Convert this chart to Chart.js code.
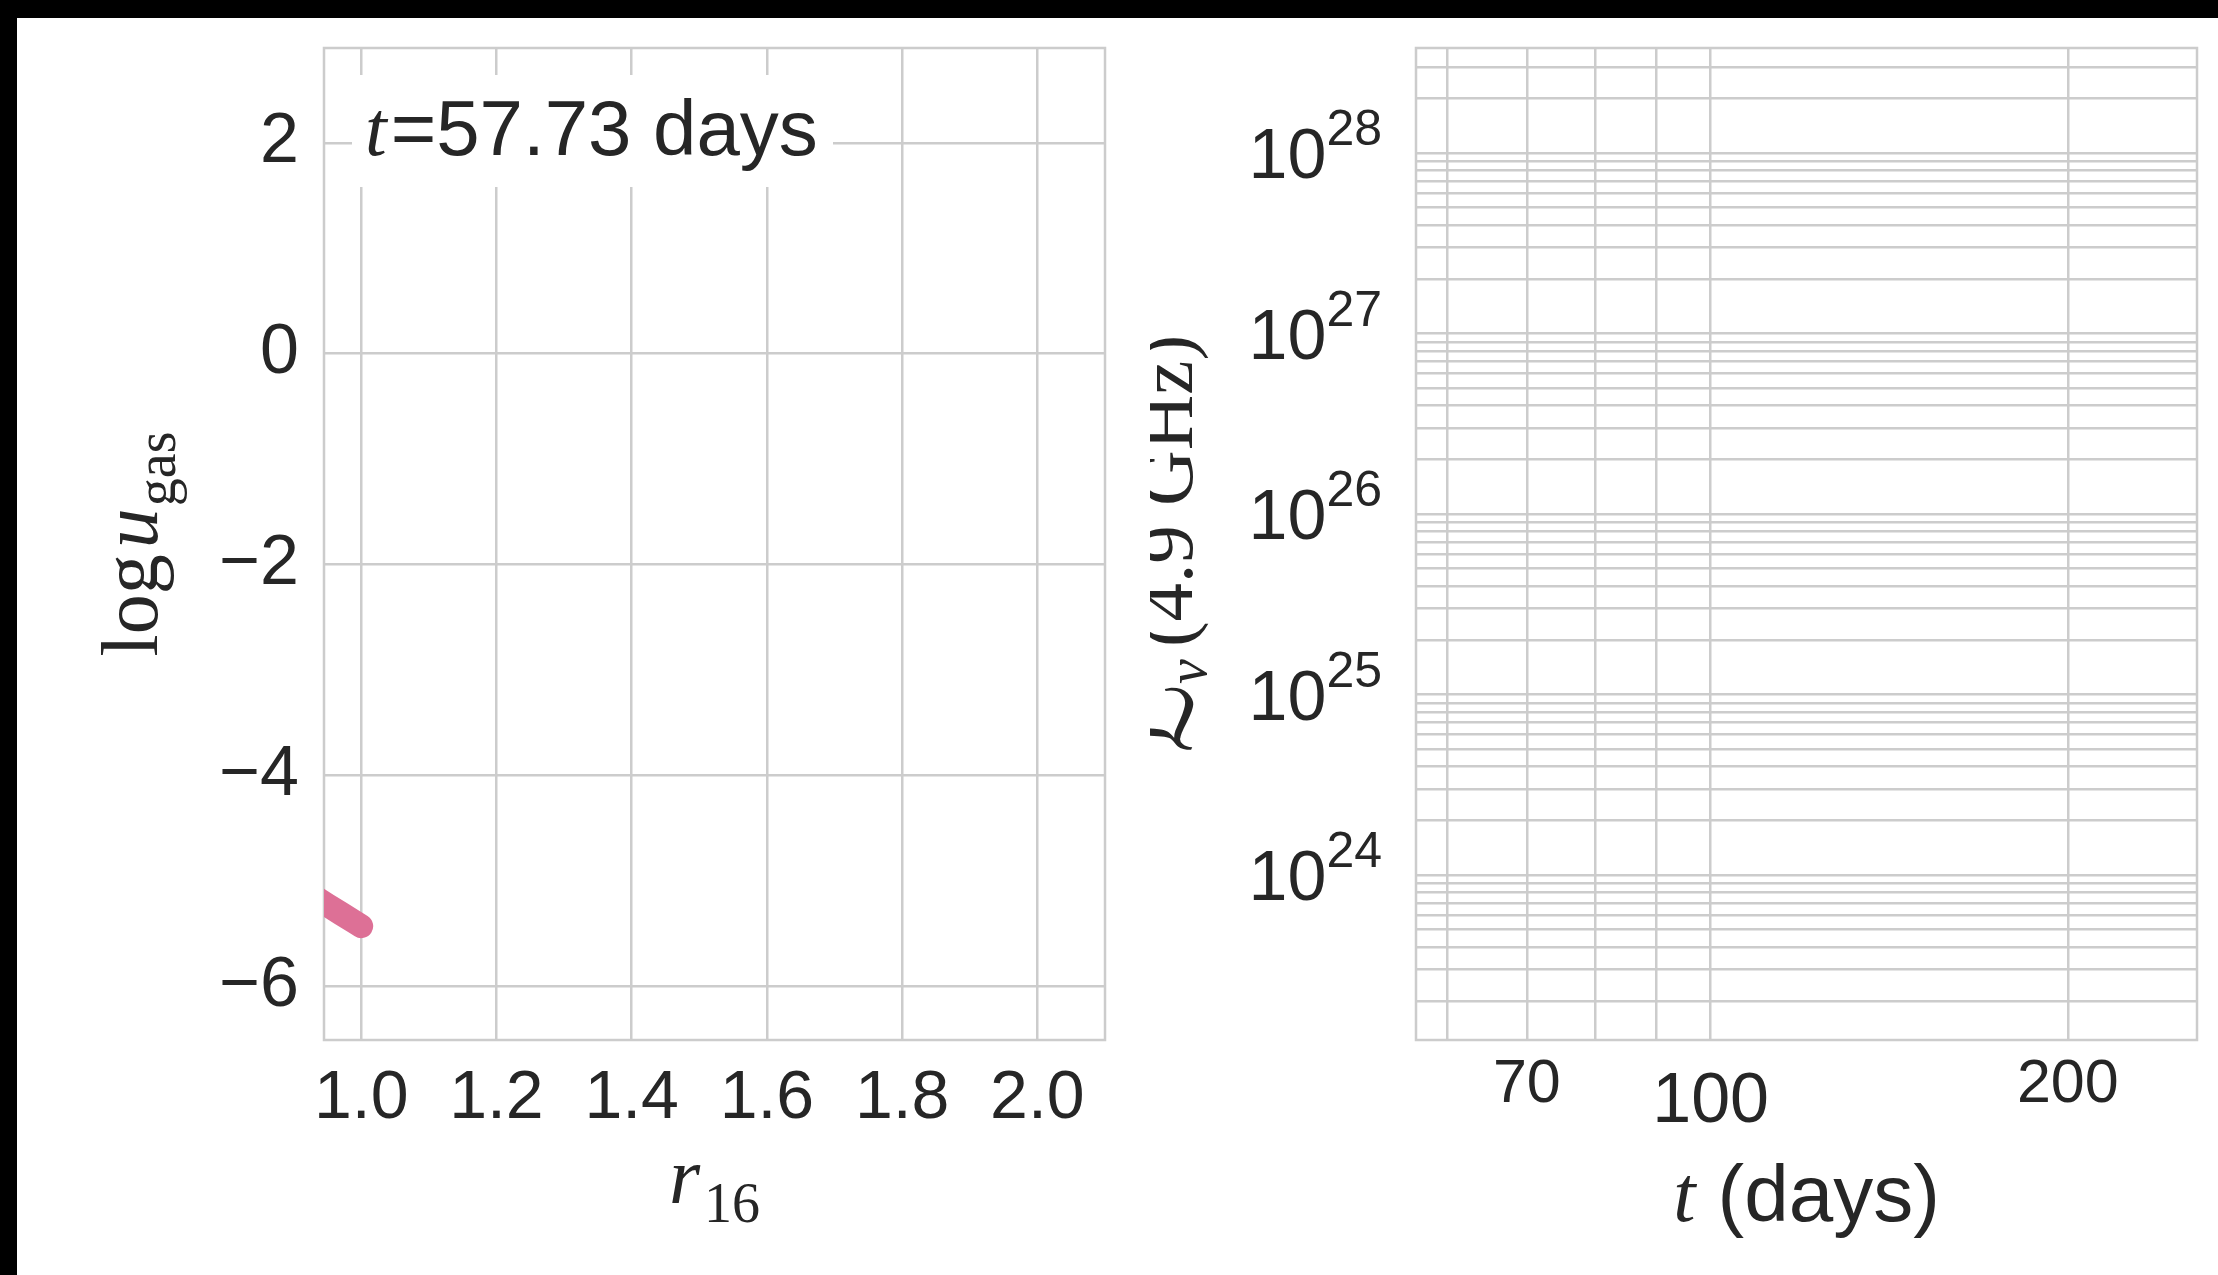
<!DOCTYPE html>
<html><head><meta charset="utf-8">
<script src="https://cdn.jsdelivr.net/npm/chart.js@4.4.1/dist/chart.umd.min.js"></script>
<style>
html,body{margin:0;padding:0;background:#fff;overflow:hidden}
body{width:2218px;height:1275px;position:relative}
#bandTop{position:absolute;left:0;top:0;width:4000px;height:18px;background:#000}
#bandLeft{position:absolute;left:0;top:0;width:17px;height:4000px;background:#000}
canvas{position:absolute;top:0}
#c1{left:0}
#c2{left:1150px}
</style></head><body>
<div id="bandTop"></div>
<div id="bandLeft"></div>
<canvas id="c1" width="1150" height="1275"></canvas>
<canvas id="c2" width="1068" height="1275"></canvas>
<script>
// ---------- data ----------
const r16 = [0.93, 0.95, 0.97, 0.99, 1.00];
const logUgas = [-5.15, -5.23, -5.31, -5.39, -5.43];
const rTicks = [1.0, 1.2, 1.4, 1.6, 1.8, 2.0];
const uTicks = [-6, -4, -2, 0, 2];
const snapshotDays = "57.73";

const tDays = [];          // light curve points (none plotted yet)
const lumNu = [];
const tTicks = [60, 70, 80, 90, 100, 200];
const tLabelled = [70, 100, 200];
const tMajor = [100];
const lumDecades = [23, 24, 25, 26, 27, 28];
const lumMantissas = [1, 2, 3, 4, 5, 6, 7, 8, 9];
const lumLabelExps = [24, 25, 26, 27, 28];

// ---------- style ----------
const SANS = "'Liberation Sans', Arial, sans-serif";
const SERIF = "'Liberation Serif', 'Times New Roman', serif";
const TXT = '#262626';
const GRID = '#cccccc';
const GW = 2.5;

function drawRuns(ctx, runs, x, y, align) {
  let total = 0;
  runs.forEach(r => { ctx.font = r.font; r.w = ctx.measureText(r.text).width; total += r.w + (r.gap || 0); });
  let cx = align === 'center' ? x - total / 2 : x;
  ctx.textAlign = 'left';
  ctx.textBaseline = 'alphabetic';
  ctx.fillStyle = TXT;
  runs.forEach(r => { ctx.font = r.font; ctx.fillText(r.text, cx, y + (r.dy || 0)); cx += r.w + (r.gap || 0); });
}

const frame = {
  id: 'frame',
  beforeDatasetsDraw(chart) {
    const a = chart.chartArea, ctx = chart.ctx;
    ctx.save();
    ctx.strokeStyle = GRID; ctx.lineWidth = GW;
    ctx.strokeRect(a.left, a.top, a.right - a.left, a.bottom - a.top);
    ctx.restore();
  }
};

function fixAxis(size, vertical) {
  return function (s) {
    if (vertical) s.width = size; else s.height = size;
    s.paddingLeft = 0; s.paddingRight = 0; s.paddingTop = 0; s.paddingBottom = 0;
  };
}

// ---------- left chart ----------
const leftText = {
  id: 'leftText',
  afterDraw(chart) {
    const a = chart.chartArea, ctx = chart.ctx;
    ctx.save();
    ctx.fillStyle = '#fff';
    ctx.fillRect(a.left + 28, a.top + 27, 481, 112);
    drawRuns(ctx, [
      {text: 't', font: 'italic 78px ' + SERIF, gap: 4},
      {text: '=' + snapshotDays + ' days', font: '78px ' + SANS}
    ], a.left + 41, a.top + 107, 'left');
    // x title
    drawRuns(ctx, [
      {text: 'r', font: 'italic 80px ' + SERIF, gap: 4},
      {text: '16', font: '56px ' + SERIF, dy: 19}
    ], (a.left + a.right) / 2, 1203, 'center');
    // y title
    ctx.translate(157, (a.top + a.bottom) / 2);
    ctx.rotate(-Math.PI / 2);
    drawRuns(ctx, [
      {text: 'log', font: '80px ' + SERIF, gap: 6},
      {text: 'u', font: 'italic 80px ' + SERIF, gap: 2},
      {text: 'gas', font: '56px ' + SERIF, dy: 18}
    ], 0, 0, 'center');
    ctx.restore();
  }
};

new Chart(document.getElementById('c1'), {
  type: 'line',
  data: {
    datasets: [{
      data: r16.map((x, i) => ({x, y: logUgas[i]})),
      borderColor: '#dd7096',
      borderWidth: 24,
      borderCapStyle: 'round',
      borderJoinStyle: 'round',
      pointRadius: 0,
      fill: false,
      tension: 0
    }]
  },
  options: {
    responsive: false, animation: false, devicePixelRatio: 1,
    layout: {padding: {left: 0, top: 48, right: 45, bottom: 0}},
    plugins: {legend: {display: false}, tooltip: {enabled: false}},
    scales: {
      x: {
        type: 'linear', min: 0.945, max: 2.1, bounds: 'data',
        afterBuildTicks: s => { s.ticks = rTicks.map(v => ({value: v})); },
        afterFit: fixAxis(235, false),
        grid: {color: GRID, lineWidth: GW, drawTicks: false},
        border: {display: false},
        ticks: {
          autoSkip: false, maxRotation: 0, padding: 18, color: TXT,
          font: {family: SANS, size: 68, lineHeight: 1.2},
          callback: v => Number(v).toFixed(1)
        }
      },
      y: {
        type: 'linear', min: -6.51, max: 2.9, bounds: 'data',
        afterBuildTicks: s => { s.ticks = uTicks.map(v => ({value: v})); },
        afterFit: fixAxis(324, true),
        grid: {color: GRID, lineWidth: GW, drawTicks: false},
        border: {display: false},
        ticks: {
          autoSkip: false, padding: 25, color: TXT,
          font: {family: SANS, size: 70},
          callback: v => (v < 0 ? '\u2212' + Math.abs(v) : String(v))
        }
      }
    }
  },
  plugins: [frame, leftText]
});

// ---------- right chart ----------
const lumGrid = [];
lumDecades.forEach(e => lumMantissas.forEach(m => lumGrid.push(m * Math.pow(10, e))));
const lumMin = 1.22e23, lumMax = 3.82e28;

const rightText = {
  id: 'rightText',
  afterDraw(chart) {
    const a = chart.chartArea, ctx = chart.ctx, ys = chart.scales.y;
    ctx.save();
    ctx.fillStyle = TXT;
    ctx.textBaseline = 'alphabetic';
    lumLabelExps.forEach(e => {
      const py = ys.getPixelForValue(Math.pow(10, e));
      ctx.font = '50px ' + SANS;
      const sw = ctx.measureText(String(e)).width;
      ctx.textAlign = 'right';
      ctx.fillText(String(e), a.left - 34, py - 8);
      ctx.font = '70px ' + SANS;
      ctx.fillText('10', a.left - 34 - sw, py + 25);
    });
    // x title
    drawRuns(ctx, [
      {text: 't', font: 'italic 80px ' + SERIF},
      {text: ' (days)', font: '80px ' + SANS}
    ], (a.left + a.right) / 2, 1221, 'center');
    // y title
    ctx.translate(42, (a.top + a.bottom) / 2);
    ctx.rotate(-Math.PI / 2);
    drawRuns(ctx, [
      {text: '\u2112', font: 'italic 96px ' + SERIF + ", 'DejaVu Serif', 'DejaVu Sans'", gap: 0},
      {text: '\u03BD', font: 'italic 56px ' + SERIF, dy: 14, gap: 12},
      {text: '(4.9 GHz)', font: '77px ' + SERIF}
    ], 0, 0, 'center');
    ctx.restore();
  }
};

new Chart(document.getElementById('c2'), {
  type: 'line',
  data: {datasets: [{data: tDays.map((x, i) => ({x, y: lumNu[i]})), borderColor: '#dd7096', pointRadius: 0}]},
  options: {
    responsive: false, animation: false, devicePixelRatio: 1,
    layout: {padding: {left: 0, top: 48, right: 21, bottom: 0}},
    plugins: {legend: {display: false}, tooltip: {enabled: false}},
    scales: {
      x: {
        type: 'logarithmic', min: 56.45, max: 257, bounds: 'data',
        afterBuildTicks: s => { s.ticks = tTicks.map(v => ({value: v})); },
        afterFit: fixAxis(235, false),
        grid: {color: GRID, lineWidth: GW, drawTicks: false},
        border: {display: false},
        ticks: {
          autoSkip: false, maxRotation: 0, padding: 18, color: TXT,
          font: c => (c.tick && tMajor.includes(c.tick.value))
            ? {family: SANS, size: 70, lineHeight: 1.286}
            : {family: SANS, size: 61, lineHeight: 0.885},
          callback: v => (tLabelled.includes(v) ? String(v) : '')
        }
      },
      y: {
        type: 'logarithmic', min: lumMin, max: lumMax, bounds: 'data',
        afterBuildTicks: s => { s.ticks = lumGrid.filter(v => v > lumMin && v < lumMax).map(v => ({value: v})); },
        afterFit: fixAxis(266, true),
        grid: {color: GRID, lineWidth: GW, drawTicks: false},
        border: {display: false},
        ticks: {display: false}
      }
    }
  },
  plugins: [frame, rightText]
});
</script>
</body></html>
